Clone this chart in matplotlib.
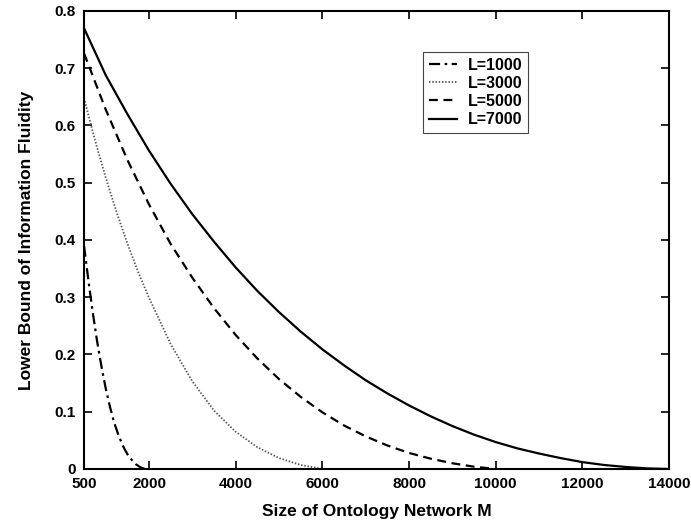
import matplotlib
matplotlib.use('Agg')
import matplotlib.pyplot as plt

plt.rcParams['font.family'] = ['Liberation Sans', 'DejaVu Sans']
plt.rcParams['font.weight'] = 'bold'

# values
m_1000 = [500, 600, 700, 800, 900, 1000, 1100, 1200, 1300, 1400, 1500, 1600, 1700, 1800, 1900]
v_1000 = [0.390, 0.330, 0.274, 0.224, 0.180, 0.141, 0.108, 0.080, 0.058, 0.040,
          0.026, 0.016, 0.008, 0.003, 0.0]

m_3000 = [500, 750, 1000, 1250, 1500, 1750, 2000, 2500, 3000, 3500, 4000, 4500, 5000, 5500, 6000]
v_3000 = [0.648, 0.575, 0.509, 0.449, 0.394, 0.344, 0.299, 0.218, 0.153, 0.102,
          0.065, 0.038, 0.019, 0.007, 0.0]

m_5000 = [500, 1000, 1500, 2000, 2500, 3000, 3500, 4000, 4500, 5000,
          5500, 6000, 6500, 7000, 7500, 8000, 8500, 9000, 9500, 10000]
v_5000 = [0.726, 0.628, 0.540, 0.462, 0.393, 0.334, 0.281, 0.234, 0.193, 0.157,
          0.126, 0.099, 0.076, 0.057, 0.041, 0.028, 0.018, 0.010, 0.004, 0.0]

m_7000 = [500, 1000, 1500, 2000, 2500, 3000, 3500, 4000, 4500, 5000, 5500, 6000, 6500, 7000,
          7500, 8000, 8500, 9000, 9500, 10000, 10500, 11000, 11500, 12000, 12500, 13000, 13500, 14000]
v_7000 = [0.770, 0.688, 0.620, 0.556, 0.498, 0.445, 0.397, 0.352, 0.311, 0.274, 0.240, 0.209,
          0.181, 0.155, 0.132, 0.111, 0.092, 0.075, 0.060, 0.047, 0.036, 0.027, 0.019, 0.012,
          0.007, 0.0035, 0.001, 0.0]

x_ticks = [500, 2000, 4000, 6000, 8000, 10000, 12000, 14000]
y_ticks = [0, 0.1, 0.2, 0.3, 0.4, 0.5, 0.6, 0.7, 0.8]
y_labels = ['0', '0.1', '0.2', '0.3', '0.4', '0.5', '0.6', '0.7', '0.8']

fig = plt.figure(figsize=(6.91, 5.26), dpi=100)
ax = fig.add_axes([0.1216, 0.1084, 0.8466, 0.8707])

ax.plot(m_1000, v_1000, color='black', lw=1.6, linestyle=(0, (5, 2, 1.2, 2)), label='L=1000')
ax.plot(m_3000, v_3000, color='#555555', lw=1.3, linestyle=(0, (0.8, 1.0)), label='L=3000')
ax.plot(m_5000, v_5000, color='black', lw=1.6, linestyle=(0, (4, 2.5)), label='L=5000')
ax.plot(m_7000, v_7000, color='black', lw=1.6, linestyle='-', label='L=7000')

ax.set_xlim(500, 14000)
ax.set_ylim(0, 0.8)
ax.set_xticks(x_ticks)
ax.set_yticks(y_ticks)
ax.set_yticklabels(y_labels)
ax.tick_params(direction='in', top=True, right=True, length=6, width=1.2,
               labelsize=11, pad=6)
for lab in ax.get_xticklabels() + ax.get_yticklabels():
    lab.set_fontweight('bold')
for sp in ax.spines.values():
    sp.set_linewidth(1.5)

ax.set_xlabel('Size of Ontology Network M', fontsize=12.5, fontweight='bold', labelpad=9)
ax.set_ylabel('Lower Bound of Information Fluidity', fontsize=12.5, fontweight='bold', labelpad=15)

leg = ax.legend(loc='upper left', bbox_to_anchor=(0.5795, 0.9105), borderaxespad=0,
                fontsize=11.5, handlelength=1.8, handletextpad=0.65, borderpad=0.35,
                labelspacing=0.2, fancybox=False, framealpha=1)
leg.get_frame().set_edgecolor('#444444')
leg.get_frame().set_linewidth(0.8)
for t in leg.get_texts():
    t.set_fontweight('bold')

fig.savefig('out.png', dpi=100)
